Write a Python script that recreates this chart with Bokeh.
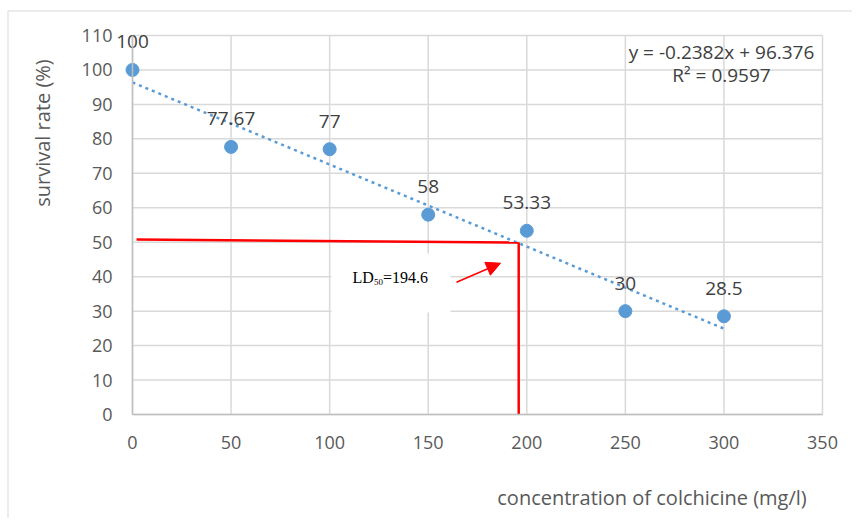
from bokeh.plotting import figure
from bokeh.models import Arrow, NormalHead, FixedTicker, ColumnDataSource
from bokeh.core.properties import value
from bokeh.embed import file_html
from bokeh.resources import INLINE
import math

# ---- data ----
concentration = [0, 50, 100, 150, 200, 250, 300]
survival = [100, 77.67, 77, 58, 53.33, 30, 28.5]
labels = ["100", "77.67", "77", "58", "53.33", "30", "28.5"]
slope = -0.2382
intercept = 96.376
ld50 = 194.6
x_ticks = [0, 50, 100, 150, 200, 250, 300, 350]
y_ticks = [0, 10, 20, 30, 40, 50, 60, 70, 80, 90, 100, 110]

FONT = "Open Sans"
SERIF = "Liberation Serif"
BLUE = "#5b9bd5"
GRID = "#d9d9d9"

W, H = 852, 518
# pixel geometry of the plotting area (x 0..350, y 0..110)
PX0, PX1, PY0, PY1 = 132, 822, 414, 35
SX = (PX1 - PX0) / 350.0
SY = (PY0 - PY1) / 110.0


def dx(px):
    return (px - PX0) / SX


def dy(py):
    return (PY0 - py) / SY


p = figure(width=W, height=H, x_range=(dx(0), dx(W)), y_range=(dy(H), dy(0)),
           output_backend="svg", toolbar_location=None, title=None,
           min_border=0, min_border_left=0, min_border_right=0,
           min_border_top=0, min_border_bottom=0)
p.outline_line_color = None
p.background_fill_color = "white"
p.border_fill_color = "white"
p.xgrid.visible = False
p.ygrid.visible = False

# chart-area border (left & top)
p.segment(x0=[dx(7.5), dx(7.5)], y0=[dy(10.5), dy(10.5)], x1=[dx(7.5), dx(W)],
          y1=[dy(H), dy(10.5)], line_color="#d9d9d9", line_width=1)

# grid lines from the tick lists
p.segment(x0=x_ticks, y0=[y_ticks[0]] * len(x_ticks), x1=x_ticks,
          y1=[y_ticks[-1]] * len(x_ticks), line_color=GRID, line_width=1.5)
p.segment(x0=[x_ticks[0]] * len(y_ticks), y0=y_ticks, x1=[x_ticks[-1]] * len(y_ticks),
          y1=y_ticks, line_color=GRID, line_width=1.5)

# axes placed inside the canvas
p.xaxis.fixed_location = 0
p.yaxis.fixed_location = 0
p.xaxis.bounds = (x_ticks[0], x_ticks[-1])
p.yaxis.bounds = (y_ticks[0], y_ticks[-1])
for ax in (p.xaxis, p.yaxis):
    ax.major_tick_in = 0
    ax.major_tick_out = 0
    ax.minor_tick_in = 0
    ax.minor_tick_out = 0
    ax.axis_line_color = "#bfbfbf"
    ax.axis_line_width = 1.5
    ax.major_label_text_font = FONT
    ax.major_label_text_font_size = "18px"
    ax.major_label_text_color = "#595959"
p.xaxis.ticker = FixedTicker(ticks=x_ticks)
p.yaxis.ticker = FixedTicker(ticks=y_ticks)
p.xaxis.major_label_standoff = 21
p.yaxis.major_label_standoff = 20

# white box behind LD50 text (covers gridlines)
p.quad(left=[dx(331)], right=[dx(450)], bottom=[dy(312)], top=[dy(253)],
       fill_color="white", line_color=None)

# trendline
tx = [concentration[0], concentration[-1]]
ty = [slope * v + intercept for v in tx]
p.line(tx, ty, line_color=BLUE, line_width=2.5, line_dash="3 4")

# LD50 red guide lines
p.line([dx(136), ld50 + 1.3], [dy(239), 49.9], line_color="#ff0000", line_width=2.5)
p.line([ld50 + 1.3, ld50 + 1.3], [49.9, 0], line_color="#ff0000", line_width=2.5)

# arrow
p.add_layout(Arrow(x_start=dx(456), y_start=dy(281.7), x_end=dx(500), y_end=dy(262.7),
                   line_color="#ff0000", line_width=1.5,
                   end=NormalHead(size=14, fill_color="#ff0000", line_color="#ff0000")))

# points
p.scatter(concentration, survival, size=13, fill_color=BLUE, line_color=BLUE)

# data labels (centred ~28 px above each point)
src = ColumnDataSource(dict(x=concentration, y=[v + 28 / SY for v in survival], t=labels))
p.text(x="x", y="y", text="t", source=src, text_font=value(FONT),
       text_font_size="19px", text_color="#404040", text_align="center",
       text_baseline="middle")

# trendline equation
p.text(x=[dx(721)], y=[dy(51)], text=["y = -0.2382x + 96.376"], text_font=value(FONT),
       text_font_size="19px", text_color="#404040", text_align="center",
       text_baseline="middle")
p.text(x=[dx(721)], y=[dy(74.5)], text=["R² = 0.9597"], text_font=value(FONT),
       text_font_size="19px", text_color="#404040", text_align="center",
       text_baseline="middle")

# LD50 text with subscript
p.text(x=[dx(352)], y=[dy(277)], text=["LD"], text_font=value(SERIF), text_font_size="16px",
       text_color="black", text_align="left", text_baseline="middle")
p.text(x=[dx(373.5)], y=[dy(281)], text=["50"], text_font=value(SERIF),
       text_font_size="9px", text_color="black", text_align="left", text_baseline="middle")
p.text(x=[dx(382.5)], y=[dy(277)], text=["=194.6"], text_font=value(SERIF),
       text_font_size="16px", text_color="black", text_align="left", text_baseline="middle")

# axis titles
p.text(x=[dx(42)], y=[dy(132.5)], text=["survival rate (%)"], angle=math.pi / 2,
       text_font=value(FONT), text_font_size="20px", text_color="#595959",
       text_align="center", text_baseline="middle")
p.text(x=[dx(651.5)], y=[dy(497)], text=["concentration of colchicine (mg/l)"],
       text_font=value(FONT), text_font_size="20px", text_color="#595959",
       text_align="center", text_baseline="middle")

open("out.html", "w").write(file_html(p, INLINE))
